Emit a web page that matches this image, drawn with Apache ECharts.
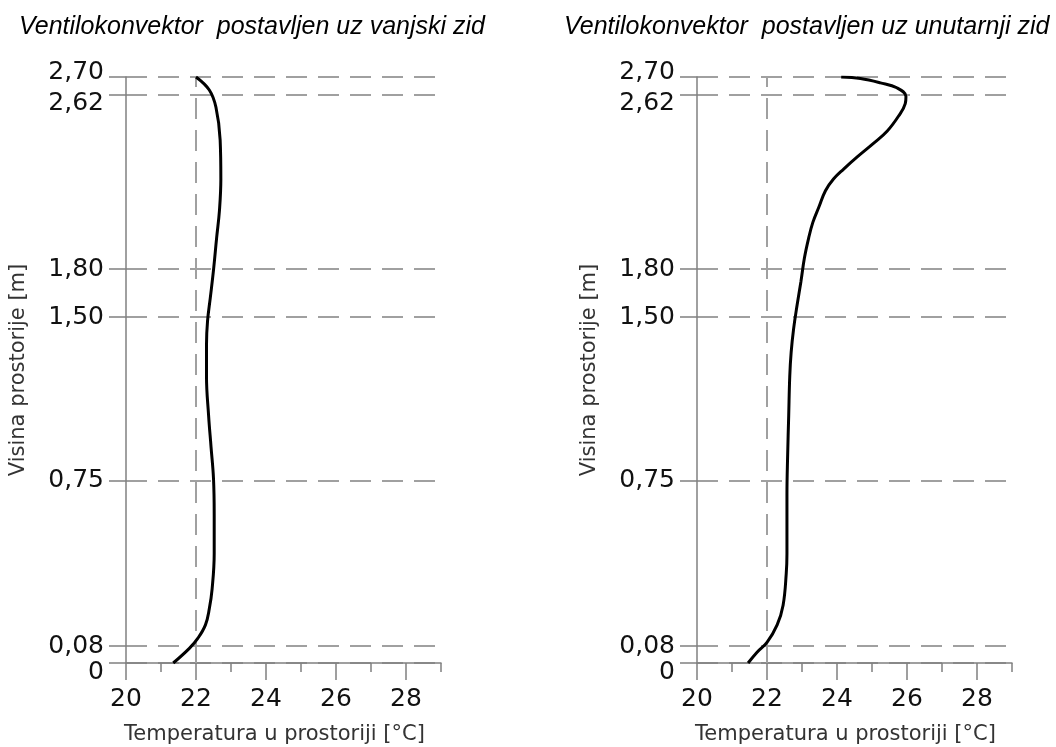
<!DOCTYPE html>
<html>
<head>
<meta charset="utf-8">
<script src="https://cdn.jsdelivr.net/npm/echarts@6/dist/echarts.min.js"></script>
<style>html,body{margin:0;padding:0;background:#fff}#c{width:1056px;height:747px}</style>
</head>
<body>
<div id="c"></div>
<script>
const titles = ['Ventilokonvektor  postavljen uz vanjski zid', 'Ventilokonvektor  postavljen uz unutarnji zid'];
const xName = 'Temperatura u prostoriji [°C]';
const yName = 'Visina prostorije [m]';
// labelled heights on the (schematic, non-uniform) height axis
const yTicks = [0, 0.08, 0.75, 1.5, 1.8, 2.62, 2.7];
const yTickLabels = ['0', '0,08', '0,75', '1,50', '1,80', '2,62', '2,70'];
const xMajor = [20, 22, 24, 26, 28];
const refTemp = 22;
// left chart: fan coil at outer wall  [temperature °C, height m]
const leftTemp = [21.35, 21.81, 22.05, 22.27, 22.38, 22.46, 22.52, 22.52, 22.50, 22.43, 22.36, 22.30, 22.30, 22.33, 22.41, 22.50, 22.59, 22.67, 22.71, 22.69, 22.57, 22.38, 22.0];
const leftH    = [0, 0.069, 0.111, 0.166, 0.231, 0.311, 0.455, 0.614, 0.761, 0.905, 1.049, 1.228, 1.374, 1.482, 1.623, 1.793, 1.948, 2.076, 2.224, 2.408, 2.562, 2.642, 2.70];
// right chart: fan coil at inner wall
const rightTemp = [21.46, 21.71, 22.0, 22.29, 22.46, 22.55, 22.57, 22.57, 22.59, 22.62, 22.65, 22.69, 22.76, 22.86, 22.97, 23.07, 23.19, 23.31, 23.48, 23.67, 23.90, 24.19, 24.57, 25.05, 25.43, 25.76, 25.95, 25.97, 25.71, 25.24, 24.67, 24.12];
const rightH    = [0, 0.050, 0.095, 0.166, 0.246, 0.375, 0.455, 0.695, 0.868, 1.049, 1.228, 1.338, 1.446, 1.575, 1.723, 1.853, 1.946, 2.020, 2.091, 2.169, 2.224, 2.271, 2.327, 2.393, 2.449, 2.521, 2.579, 2.613, 2.652, 2.674, 2.693, 2.70];

// layout: relative position (0..1) of each labelled height on the schematic axis
const ySlots = [0, 0.0289, 0.3107, 0.5904, 0.6722, 0.9693, 1];
function warp(h) {
  for (let i = 0; i < yTicks.length - 1; i++) {
    if (h <= yTicks[i + 1] || i === yTicks.length - 2) {
      const f = (h - yTicks[i]) / (yTicks[i + 1] - yTicks[i]);
      return ySlots[i] + f * (ySlots[i + 1] - ySlots[i]);
    }
  }
  return 1;
}

const FONT = "'DejaVu Sans', Verdana, sans-serif";
const AX = '#808080';
const DASH = '#a0a0a0';

function fmtY(v) {
  let k = 0;
  ySlots.forEach((s, i) => { if (Math.abs(s - v) < Math.abs(ySlots[k] - v)) k = i; });
  const s = yTickLabels[k];
  if (k === yTicks.length - 1) return '{u|' + s + '}';
  if (k === yTicks.length - 2 || k === 0) return '{d|' + s + '}';
  return '{n|' + s + '}';
}
const labStyle = {fontFamily: FONT, fontSize: 25, color: '#111'};

const grids = [
  {left: 126, width: 315, top: 77, height: 586, outerBoundsMode: 'none', containLabel: false},
  {left: 697, width: 315, top: 77, height: 586, outerBoundsMode: 'none', containLabel: false}
];
const xAxes = [], yAxes = [], series = [];
const datasets = [[leftTemp, leftH], [rightTemp, rightH]];
grids.forEach((g, i) => {
  xAxes.push({
    type: 'value', gridIndex: i, min: 20, max: 29, interval: 1, position: 'bottom',
    axisLine: {show: true, lineStyle: {color: AX, width: 1.5}},
    axisTick: {show: true, length: 9, lineStyle: {color: AX, width: 1.5}},
    axisLabel: {show: false}, splitLine: {show: false}
  });
  xAxes.push({
    type: 'value', gridIndex: i, min: 20, max: 29, position: 'bottom',
    axisLine: {show: false},
    axisTick: {show: true, length: 17, customValues: xMajor, lineStyle: {color: AX, width: 1.5}},
    axisLabel: {show: true, customValues: xMajor, margin: 24, fontFamily: FONT, fontSize: 25, color: '#111'},
    splitLine: {show: false},
    name: xName, nameLocation: 'middle', nameGap: 61,
    nameTextStyle: {fontFamily: FONT, fontSize: 21, color: '#333', padding: [0, 18, 0, 0]}
  });
  yAxes.push({
    type: 'value', gridIndex: i, min: 0, max: 1,
    axisLine: {show: true, lineStyle: {color: AX, width: 1.5}},
    axisTick: {show: true, length: 17, customValues: ySlots, lineStyle: {color: AX, width: 1.5}},
    axisLabel: {show: true, customValues: ySlots, margin: 22, formatter: fmtY,
      fontFamily: FONT, fontSize: 25, color: '#111',
      rich: {
        n: labStyle,
        u: Object.assign({padding: [0, 0, 10, 0]}, labStyle),
        d: Object.assign({padding: [18, 0, 0, 0]}, labStyle)
      }},
    splitLine: {show: true, lineStyle: {color: DASH, width: 2, type: [21, 11]}},
    name: yName, nameLocation: 'middle', nameGap: 97,
    nameTextStyle: {fontFamily: FONT, fontSize: 21, color: '#333'}
  });
  const [tt, hh] = datasets[i];
  series.push({
    type: 'line', xAxisIndex: i * 2, yAxisIndex: i,
    data: tt.map((t, k) => [t, warp(hh[k])]),
    showSymbol: false, smooth: 0.4,
    lineStyle: {color: '#000', width: 3},
    z: 5,
    markLine: {
      silent: true, symbol: ['none', 'none'], label: {show: false},
      lineStyle: {color: DASH, width: 2, type: [21, 11]},
      data: [{xAxis: refTemp}]
    }
  });
});

const TFONT = "'Liberation Sans', Arial, sans-serif";
const chart = echarts.init(document.getElementById('c'), null, {renderer: 'canvas'});
chart.setOption({
  animation: false,
  backgroundColor: '#fff',
  title: [
    {text: titles[0], left: 14, top: 10, textStyle: {fontFamily: TFONT, fontStyle: 'italic', fontWeight: 'normal', fontSize: 25, color: '#000'}},
    {text: titles[1], left: 559, top: 10, textStyle: {fontFamily: TFONT, fontStyle: 'italic', fontWeight: 'normal', fontSize: 25, color: '#000'}}
  ],
  grid: grids,
  xAxis: xAxes,
  yAxis: yAxes,
  series: series
});
</script>
</body>
</html>
